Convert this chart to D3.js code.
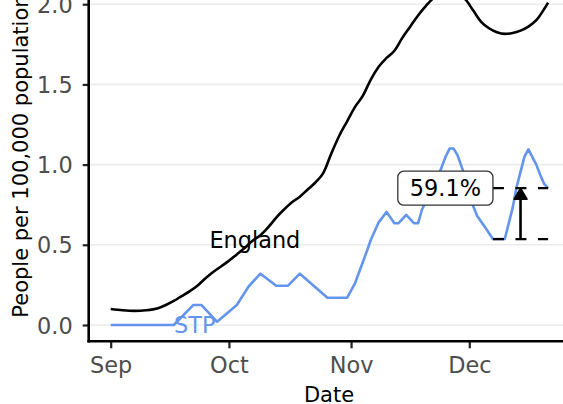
<!DOCTYPE html>
<html><head><meta charset="utf-8">
<script src="https://cdn.jsdelivr.net/npm/d3@7"></script>
<style>html,body{margin:0;padding:0;background:#fff;} svg{display:block;font-family:"DejaVu Sans",sans-serif;}</style>
</head><body><svg id="chart" width="563" height="404"></svg>
<script>
// ---- data ----
const englandDates = ["2020-09-01","2020-09-04","2020-09-07","2020-09-10","2020-09-13","2020-09-15","2020-09-17","2020-09-19","2020-09-21","2020-09-23","2020-09-25","2020-09-27","2020-09-29","2020-10-01","2020-10-03","2020-10-05","2020-10-07","2020-10-09","2020-10-11","2020-10-13","2020-10-15","2020-10-17","2020-10-19","2020-10-21","2020-10-23","2020-10-25","2020-10-27","2020-10-29","2020-10-31","2020-11-02","2020-11-04","2020-11-06","2020-11-08","2020-11-10","2020-11-12","2020-11-14","2020-11-16","2020-11-18","2020-11-20","2020-11-22","2020-11-25","2020-11-28","2020-11-30","2020-12-02","2020-12-04","2020-12-06","2020-12-08","2020-12-10","2020-12-12","2020-12-14","2020-12-16","2020-12-18","2020-12-20","2020-12-21"];
const englandValues = [0.100,0.092,0.088,0.092,0.105,0.125,0.15,0.18,0.21,0.245,0.29,0.33,0.365,0.40,0.44,0.48,0.525,0.56,0.61,0.67,0.72,0.765,0.80,0.845,0.89,0.95,1.07,1.18,1.27,1.36,1.43,1.53,1.61,1.665,1.71,1.79,1.86,1.93,1.99,2.04,2.07,2.06,2.03,1.96,1.89,1.85,1.825,1.815,1.82,1.835,1.86,1.90,1.97,2.01];

const stpDates = ["2020-09-01","2020-09-17","2020-09-22","2020-09-24","2020-09-28","2020-10-03","2020-10-06","2020-10-09","2020-10-13","2020-10-16","2020-10-19","2020-10-26","2020-10-31","2020-11-02","2020-11-05","2020-11-06","2020-11-08","2020-11-10","2020-11-12","2020-11-13","2020-11-15","2020-11-17","2020-11-18","2020-11-19","2020-11-23","2020-11-25","2020-11-26","2020-11-27","2020-11-28","2020-11-30","2020-12-02","2020-12-03","2020-12-05","2020-12-07","2020-12-10","2020-12-12","2020-12-13","2020-12-15","2020-12-16","2020-12-18","2020-12-19","2020-12-20","2020-12-21"];
const stpValues = [0,0,0.125,0.125,0.02,0.125,0.24,0.32,0.245,0.245,0.32,0.17,0.17,0.26,0.46,0.53,0.64,0.705,0.634,0.634,0.686,0.634,0.634,0.72,0.92,1.05,1.10,1.10,1.06,0.92,0.74,0.68,0.61,0.536,0.536,0.73,0.86,1.05,1.095,1.00,0.935,0.88,0.853];

const xTickDates = ["2020-09-01","2020-10-01","2020-11-01","2020-12-01"];
const xTickLabels = ["Sep","Oct","Nov","Dec"];
const yTicks = [0, 0.5, 1, 1.5, 2];

const seriesLabels = ["England","STP"];
const seriesLabelDates = ["2020-10-07T14:00","2020-09-22T08:00"];
const seriesLabelValues = [0.53, 0];

const annotStartDate = "2020-12-07";
const annotEndDate = "2020-12-21";

const xTitle = "Date";
const yTitle = "People per 100,000 population";

// ---- layout ----
const W = 563, H = 404;
const axisX = 88.7, axisY = 341.3;
const parse = s => new Date(s + (s.length === 10 ? "T00:00Z" : "Z"));
const FS = 22.4;
const LW = 2.6;

const x = d3.scaleUtc().domain([parse("2020-09-01"), parse("2020-12-01")]).range([110.7, 469.3]);
const y = d3.scaleLinear().domain([0, 2]).range([325, 4.2]);

const svg = d3.select("#chart");

// grid
svg.append("g").selectAll("line").data(yTicks).join("line")
  .attr("x1", axisX).attr("x2", W)
  .attr("y1", d => y(d)).attr("y2", d => y(d))
  .attr("stroke", "#ebebeb").attr("stroke-width", 1.6);

// lines
const eng = englandDates.map((d, i) => ({date: parse(d), v: englandValues[i]}));
const stp = stpDates.map((d, i) => ({date: parse(d), v: stpValues[i]}));

svg.append("path").datum(eng)
  .attr("fill", "none").attr("stroke", "#000").attr("stroke-width", LW)
  .attr("stroke-linejoin", "round")
  .attr("d", d3.line().x(d => x(d.date)).y(d => y(d.v)).curve(d3.curveMonotoneX));

svg.append("path").datum(stp)
  .attr("fill", "none").attr("stroke", "#6495ED").attr("stroke-width", LW)
  .attr("stroke-linejoin", "round")
  .attr("d", d3.line().x(d => x(d.date)).y(d => y(d.v)));

// annotation
const aStart = parse(annotStartDate), aEnd = parse(annotEndDate);
const vMin = stp.find(d => +d.date === +aStart).v;
const vEnd = stp.find(d => +d.date === +aEnd).v;
const aMid = new Date((+aStart + +aEnd) / 2);

svg.append("g").selectAll("line").data([vMin, vEnd]).join("line")
  .attr("x1", x(aStart)).attr("x2", x(aEnd))
  .attr("y1", d => y(d)).attr("y2", d => y(d))
  .attr("stroke", "#000").attr("stroke-width", 2.2)
  .attr("stroke-dasharray", "11 11.5");

const tipY = y(vEnd), headL = 11, headW = 6.5;
svg.append("line")
  .attr("x1", x(aMid)).attr("x2", x(aMid))
  .attr("y1", y(vMin)).attr("y2", tipY + headL - 1)
  .attr("stroke", "#000").attr("stroke-width", 2.6);
svg.append("path")
  .attr("d", `M${x(aMid)},${tipY} L${x(aMid) - headW},${tipY + headL} L${x(aMid) + headW},${tipY + headL} Z`)
  .attr("fill", "#000").attr("stroke", "#000").attr("stroke-width", 1.5).attr("stroke-linejoin", "round");

const pct = d3.format(".1f")((vEnd / vMin - 1) * 100) + "%";
const lab = svg.append("g");
const labText = lab.append("text")
  .attr("x", x(aStart) - 12).attr("y", y(vEnd)).attr("dy", "0.365em")
  .attr("text-anchor", "end").attr("font-size", FS).attr("fill", "#000")
  .text(pct);
const bb = labText.node().getBBox();
lab.insert("rect", "text")
  .attr("x", bb.x - 12).attr("width", bb.width + 24)
  .attr("y", y(vEnd) - 17).attr("height", 34)
  .attr("rx", 6).attr("ry", 6)
  .attr("fill", "#fff").attr("stroke", "#333").attr("stroke-width", 1.3);

// series labels
svg.append("g").selectAll("text").data(seriesLabels).join("text")
  .attr("x", (d, i) => x(parse(seriesLabelDates[i])))
  .attr("y", (d, i) => y(seriesLabelValues[i]))
  .attr("dy", "0.365em")
  .attr("text-anchor", "middle").attr("font-size", FS)
  .attr("fill", (d, i) => i === 0 ? "#000" : "#6495ED")
  .text(d => d);

// axes
const yAxis = d3.axisLeft(y).tickValues(yTicks).tickFormat(d3.format(".1f")).tickSize(6).tickPadding(10);
const gy = svg.append("g").attr("transform", `translate(${axisX},0)`).call(yAxis);
gy.select(".domain").remove();
gy.selectAll(".tick line").attr("stroke", "#222").attr("stroke-width", 2.2);
gy.selectAll(".tick text").attr("font-size", FS).attr("fill", "#4d4d4d").attr("font-family", "DejaVu Sans").attr("dy", "0.36em");

const xAxis = d3.axisBottom(x).tickValues(xTickDates.map(parse)).tickFormat((d, i) => xTickLabels[i]).tickSize(7).tickPadding(9);
const gx = svg.append("g").attr("transform", `translate(0,${axisY})`).call(xAxis);
gx.select(".domain").remove();
gx.selectAll(".tick line").attr("stroke", "#222").attr("stroke-width", 2.2);
gx.selectAll(".tick text").attr("font-size", FS).attr("fill", "#4d4d4d").attr("font-family", "DejaVu Sans");

// axis lines
svg.append("line").attr("x1", axisX).attr("x2", axisX).attr("y1", 0).attr("y2", axisY + 1.3)
  .attr("stroke", "#000").attr("stroke-width", 2.6);
svg.append("line").attr("x1", axisX - 1.3).attr("x2", W).attr("y1", axisY).attr("y2", axisY)
  .attr("stroke", "#000").attr("stroke-width", 2.6);

// titles
svg.append("text").attr("x", 329).attr("y", 401.5).attr("text-anchor", "middle")
  .attr("font-size", 21).attr("fill", "#000").text(xTitle);
svg.append("text").attr("transform", "translate(28.3,317.7) rotate(-90)")
  .attr("text-anchor", "start").attr("font-size", 21).attr("fill", "#000").text(yTitle);
</script>
</body></html>
